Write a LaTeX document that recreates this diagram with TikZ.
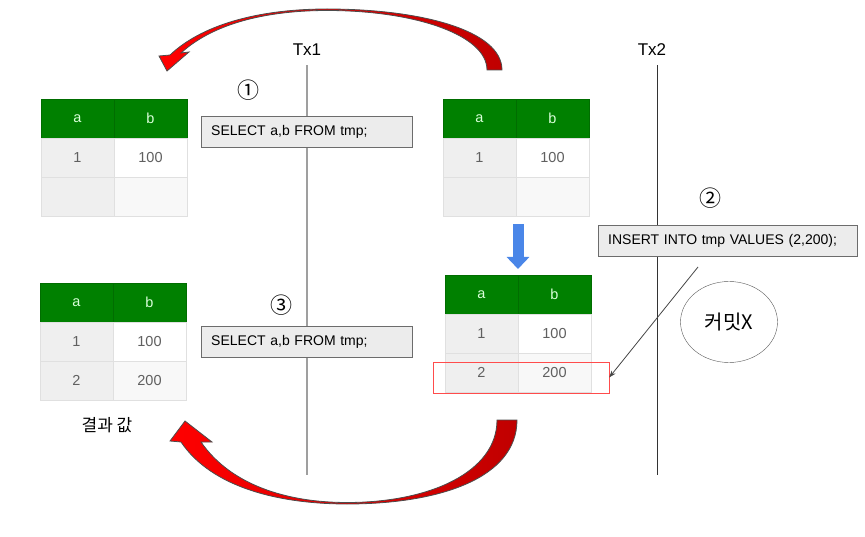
\documentclass[tikz,border=0pt]{standalone}
\usepackage{fontspec}
\setmainfont{Liberation Sans}
\newfontfamily\krfont{Noto Sans CJK KR}
\usetikzlibrary{arrows.meta, positioning, shapes.geometric}

\definecolor{hdrgreen}{HTML}{008000}
\definecolor{keygray}{HTML}{EFEFEF}
\definecolor{valgray}{HTML}{F8F8F8}
\definecolor{cellline}{HTML}{E0E0E0}
\definecolor{qfill}{HTML}{ECECEC}
\definecolor{arrowblue}{HTML}{4A86E8}
\definecolor{darkred}{HTML}{C00000}

% one table: name, x, y, row 2 key, row 2 value
\newcommand{\dbtab}[5]{%
  \begin{scope}[shift={(#2,#3)}]
    \node[hdcell] (#1h1) at (0,0) {a};
    \node[hdcell] (#1h2) at (73,0) {b};
    \node[keycell] (#1a1) at (0,39) {1};
    \node[valcell, fill=white] (#1b1) at (73,39) {100};
    \node[keycell] (#1a2) at (0,78) {#4};
    \node[valcell] (#1b2) at (73,78) {#5};
  \end{scope}}

\begin{document}
\begin{tikzpicture}[
    x=1pt, y=-1pt,
    cell/.style={rectangle, draw=cellline, minimum width=73, minimum height=39, inner sep=0pt, outer sep=0pt, anchor=north west, font=\fontsize{14.5}{16}\selectfont, text=gray!75!black},
    hdcell/.style={cell, fill=hdrgreen, draw=hdrgreen!85!black, text=white!85!green},
    keycell/.style={cell, fill=keygray},
    valcell/.style={cell, fill=valgray},
    query/.style={rectangle, draw=gray!85!black, fill=qfill, minimum height=31, inner xsep=10pt, align=left, anchor=west, font=\fontsize{14}{16}\selectfont},
    txlabel/.style={font=\fontsize{17}{19}\selectfont},
    step num/.style={font=\krfont\fontsize{22}{24}\selectfont},
    timeline/.style={line width=1.6, gray!75},
    bigarrow/.style={draw=gray!60!black, line width=0.8, left color=red, right color=darkred},
    insert arrow/.style={-{Stealth[length=7pt, width=5pt]}, gray!55!black, line width=0.8},
]
\useasboundingbox (0,0) rectangle (865,537);

% Timelines
\node[txlabel] (tx1) at (307,50) {Tx1};
\node[txlabel] (tx2) at (652,50) {Tx2};
\coordinate (tx1end) at (307,475);
\coordinate (tx2end) at (657,475);
\draw[timeline, shorten <=6pt] (tx1.south) -- (tx1end);
\draw[gray!40!black, line width=1, shorten <=6pt] (tx2.south -| tx2end) -- (tx2end);

% Tables
\dbtab{ta}{41}{99}{}{}
\dbtab{tb}{443}{99}{}{}
\dbtab{tc}{40}{283}{2}{200}
\dbtab{td}{445}{275}{2}{200}

% Queries
\node[query, text width=191] (q1) at (201,131.5) {SELECT a,b FROM tmp;};
\node[query, text width=191] (q3) at (201,342) {SELECT a,b FROM tmp;};
\node[query, text width=239] (q2) at (598,241) {INSERT INTO tmp VALUES (2,200);};

% Step numbers
\node[step num] (n1) at (248,90) {①};
\node[step num] (n2) at (710,198) {②};
\node[step num] (n3) at (281,305) {③};

% Inserted row and commit mark
\node[rectangle, draw=red!70, minimum width=176, minimum height=31, inner sep=0pt] (hl) at (521,377.5) {};
\coordinate (insfrom) at (698,267);
\draw[insert arrow] (insfrom) -- (hl.east);
\node[ellipse, draw=gray!70!black, minimum width=97, minimum height=81, font=\krfont\fontsize{20}{22}\selectfont] (commit) at (729,322) {커밋X};

\node[font=\krfont\fontsize{17}{19}\selectfont] (result) at (107,425) {결과 값};

% Blue arrow between right tables
\draw[arrowblue, line width=11, -{Triangle[width=22pt, length=12pt]}] ([yshift=-8]tbb2.south west -| tdh1.north east) -- ([yshift=6]tdh1.north east);

% Red curved arrows
\path[bigarrow] (502,70) .. controls (502,30) and (420,9) .. (327,9)
  .. controls (265,9) and (205,22) .. (170,55)
  -- (159,56) -- (167,71) -- (189,52) -- (181,53)
  .. controls (215,22) and (270,10.5) .. (327,10.5)
  .. controls (415,10.5) and (487,35) .. (487,70) -- cycle;
\path[bigarrow] (517,420) .. controls (517,478) and (440,504) .. (347,504)
  .. controls (280,504) and (212,488) .. (181,442)
  -- (170,441) -- (185,421) -- (212,442) -- (201,442)
  .. controls (230,484) and (285,502.5) .. (347,502.5)
  .. controls (430,502.5) and (497,472) .. (497,420) -- cycle;

\end{tikzpicture}
\end{document}
